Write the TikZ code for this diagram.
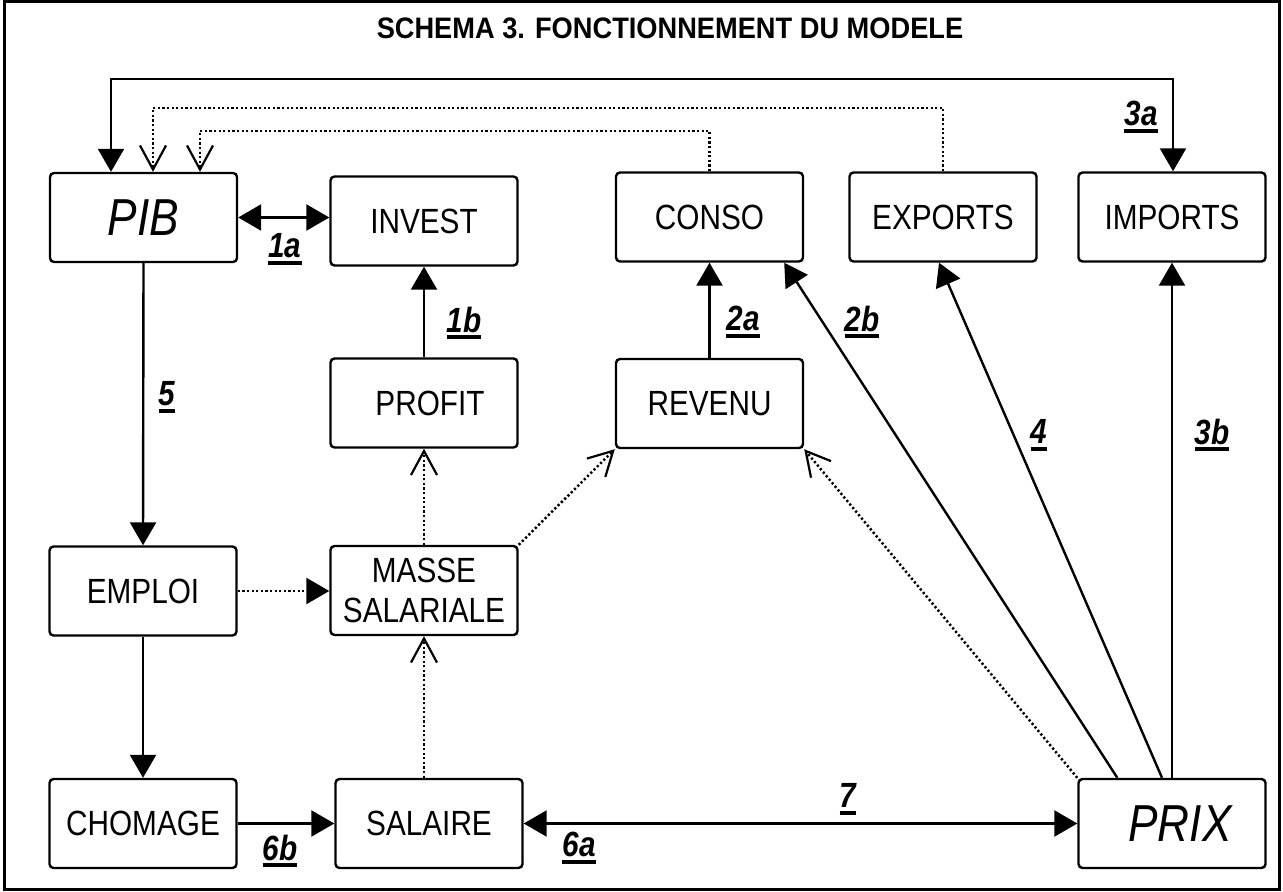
\documentclass[tikz,border=0pt]{standalone}
\usepackage{fontspec}
\setmainfont[FakeStretch=0.85]{Liberation Sans}
\newfontfamily\titlefont[FakeStretch=0.92]{Liberation Sans}
\usetikzlibrary{arrows.meta}
\newcommand\lbl[1]{\vtop{\hbox{#1}\kern1.5pt\hrule height 2pt}}
\begin{document}
\begin{tikzpicture}[x=0.5pt,y=-0.5pt,
 box/.style={draw, line width=1.2pt, rounded corners=2pt, minimum width=93.5pt, minimum height=44.5pt, inner sep=0pt, align=center, font=\fontsize{17.5}{20}\selectfont},
 big/.style={font=\fontsize{26}{30}\selectfont\itshape},
 lab/.style={inner sep=0pt, font=\fontsize{17.5}{19}\selectfont\bfseries\itshape},
 sol/.style={line width=1.2pt},
 dot/.style={line width=1.25pt, dash pattern=on 1.1pt off 1.2pt},
 fa/.style={-{Triangle[length=11.5pt,width=13pt]}},
 fab/.style={{Triangle[length=11.5pt,width=13pt]}-{Triangle[length=11.5pt,width=13pt]}},
 oa/.style={-{Straight Barb[length=12pt,width=13pt,line width=1.1pt]}}]
\useasboundingbox (0,0) rectangle (1283,892);
\draw[line width=1.5pt] (4,2) rectangle (1279,889);
\node[font=\titlefont\fontsize{14.8}{17}\selectfont\bfseries] (title) at (670,28) {SCHEMA 3. FONCTIONNEMENT DU MODELE};
% boxes
\node[box,big] (pib) at (143.5,217.5) {PIB};
\node[box] (invest) at (424,221) {INVEST};
\node[box] (conso) at (709.5,217) {CONSO};
\node[box] (exports) at (943,217) {EXPORTS};
\node[box] (imports) at (1172,217) {IMPORTS};
\node[box] (profit) at (424,403) {\hspace{6pt}PROFIT};
\node[box] (revenu) at (709.5,403.5) {REVENU};
\node[box] (emploi) at (143,591) {EMPLOI};
\node[box] (masse) at (424,590.5) {MASSE\\SALARIALE};
\node[box] (chomage) at (143,823.5) {CHOMAGE};
\node[box] (salaire) at (429,823.5) {SALAIRE};
\node[box,big] (prix) at (1172,823.5) {\hspace{8pt}PRIX};
% bend points
\coordinate (b1) at (111,79);
\coordinate (b2) at (1173,79);
\coordinate (d1) at (153,108);
\coordinate (d2) at (200,131);
% solid connectors
\draw[sol,fab] (pib.north -| b1) -- (b1) -- (b2) -- (imports.north -| b2);
\draw[sol,fab] (pib.east) -- (pib.east -| invest.west);
\draw[sol,fa] (profit.north) -- (invest.south);
\draw[sol,fa] (pib.south) -- (emploi.north);
\draw[sol,fa] (emploi.south) -- (chomage.north);
\draw[sol,fa] (chomage.east) -- (salaire.west);
\draw[sol,fab] (salaire.east) -- (prix.west);
\draw[sol,fa] (revenu.north) -- (conso.south);
\draw[sol,fa] ([xshift=20pt]prix.north west) -- ([xshift=-10pt]conso.south east);
\draw[sol,fa] ([xshift=-5pt]prix.north) -- ([xshift=-2pt]exports.south);
\draw[sol,fa] (prix.north) -- (imports.south);
% dotted connectors
\draw[dot,oa] (exports.north) -- (exports.north |- d1) -- (d1) -- (pib.north -| d1);
\draw[dot,oa] (conso.north) -- (conso.north |- d2) -- (d2) -- (pib.north -| d2);
\draw[dot,fa] (emploi.east) -- (emploi.east -| masse.west);
\draw[dot,oa] (masse.north) -- (profit.south);
\draw[dot,oa] (masse.north east) -- (revenu.south west);
\draw[dot,oa] (salaire.north -| masse.south) -- (masse.south);
\draw[dot,oa] (prix.north west) -- (revenu.south east);
% labels
\node[lab] (l1a) at (285,249) {\lbl{1a}};
\node[lab] (l1b) at (464,323) {\lbl{1b}};
\node[lab] (l5) at (167,397) {\lbl{5}};
\node[lab] (l2a) at (743,322) {\lbl{2a}};
\node[lab] (l2b) at (862,322) {\lbl{2b}};
\node[lab] (l3a) at (1141,117) {\lbl{3a}};
\node[lab] (l4) at (1039,435) {\lbl{4}};
\node[lab] (l3b) at (1212,435) {\lbl{3b}};
\node[lab] (l6b) at (280,851) {\lbl{6b}};
\node[lab] (l6a) at (579,848) {\lbl{6a}};
\node[lab] (l7) at (848,799) {\lbl{7}};
\end{tikzpicture}
\end{document}
